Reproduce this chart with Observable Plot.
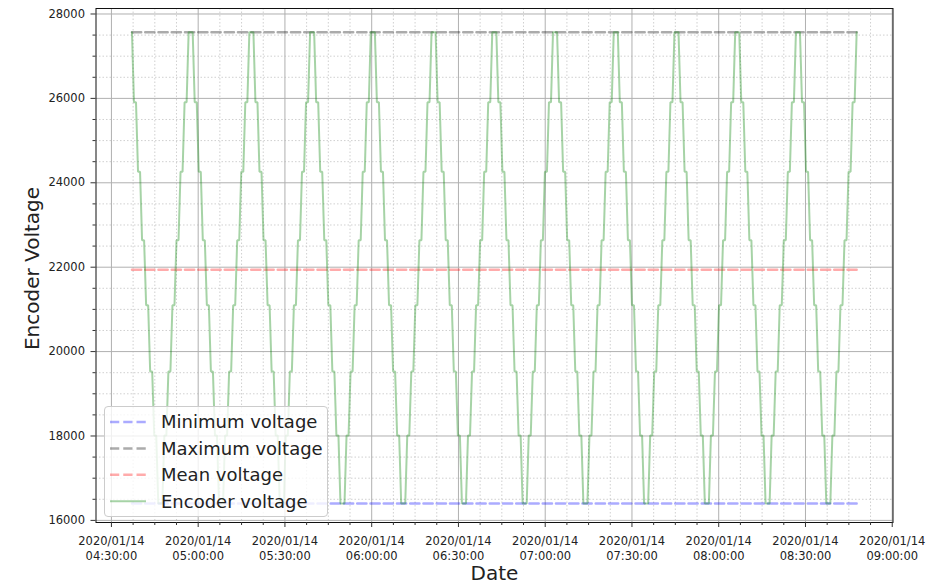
<!DOCTYPE html>
<html>
<head>
<meta charset="utf-8">
<script src="https://cdn.jsdelivr.net/npm/d3@7"></script>
<script src="https://cdn.jsdelivr.net/npm/@observablehq/plot@0.6"></script>
<style>
  html, body { margin: 0; padding: 0; background: #fff; }
  #wrap { position: relative; width: 928px; height: 585px; font-family: "DejaVu Sans", sans-serif; }
  #legend { position: absolute; left: 104px; top: 406px; width: 224px; height: 111px;
            background: rgba(255,255,255,0.8); border: 1px solid #cccccc; border-radius: 4px; box-sizing: border-box; }
</style>
</head>
<body>
<div id="wrap"></div>
<script>
// ---------- data ----------
const startTime = "2020-01-14T04:37:06Z";   // first sample
const sampleSeconds = 42;                     // sampling interval

const encoderVoltage = [
  27570,25910,25910,24260,24260,22640,22640,21100,21100,19530,19530,18010,18010,16400,16400,16400,18010,18010,19530,19530,21100,21100,22640,22640,24260,24260,25910,25910,
  27570,27570,27570,25910,25910,24260,24260,22640,22640,21100,21100,19530,19530,18010,18010,16400,16400,16400,18010,18010,19530,19530,21100,21100,22640,22640,24260,24260,25910,25910,
  27570,27570,27570,25910,25910,24260,24260,22640,22640,21100,21100,19530,19530,18010,18010,16400,16400,16400,18010,18010,19530,19530,21100,21100,22640,22640,24260,24260,25910,25910,
  27570,27570,27570,25910,25910,24260,24260,22640,22640,21100,21100,19530,19530,18010,18010,16400,16400,16400,18010,18010,19530,19530,21100,21100,22640,22640,24260,24260,25910,25910,
  27570,27570,27570,25910,25910,24260,24260,22640,22640,21100,21100,19530,19530,18010,18010,16400,16400,16400,18010,18010,19530,19530,21100,21100,22640,22640,24260,24260,25910,25910,
  27570,27570,27570,25910,25910,24260,24260,22640,22640,21100,21100,19530,19530,18010,18010,16400,16400,16400,18010,18010,19530,19530,21100,21100,22640,22640,24260,24260,25910,25910,
  27570,27570,27570,25910,25910,24260,24260,22640,22640,21100,21100,19530,19530,18010,18010,16400,16400,16400,18010,18010,19530,19530,21100,21100,22640,22640,24260,24260,25910,25910,
  27570,27570,27570,25910,25910,24260,24260,22640,22640,21100,21100,19530,19530,18010,18010,16400,16400,16400,18010,18010,19530,19530,21100,21100,22640,22640,24260,24260,25910,25910,
  27570,27570,27570,25910,25910,24260,24260,22640,22640,21100,21100,19530,19530,18010,18010,16400,16400,16400,18010,18010,19530,19530,21100,21100,22640,22640,24260,24260,25910,25910,
  27570,27570,27570,25910,25910,24260,24260,22640,22640,21100,21100,19530,19530,18010,18010,16400,16400,16400,18010,18010,19530,19530,21100,21100,22640,22640,24260,24260,25910,25910,
  27570,27570,27570,25910,25910,24260,24260,22640,22640,21100,21100,19530,19530,18010,18010,16400,16400,16400,18010,18010,19530,19530,21100,21100,22640,22640,24260,24260,25910,25910,
  27570,27570,27570,25910,25910,24260,24260,22640,22640,21100,21100,19530,19530,18010,18010,16400,16400,16400,18010,18010,19530,19530,21100,21100,22640,22640,24260,24260,25910,25910,
  27570
];

const refNames  = ["Minimum voltage", "Maximum voltage", "Mean voltage"];
const refValues = [16400, 27570, 21940];
const refColors = ["blue", "black", "red"];
const seriesName  = "Encoder voltage";
const seriesColor = "green";

const xTickLabels = ["04:30","05:00","05:30","06:00","06:30","07:00","07:30","08:00","08:30","09:00"];
const yTickValues = [16000, 18000, 20000, 22000, 24000, 26000, 28000];
const xDomain = ["2020-01-14T04:24:40Z", "2020-01-14T09:00:16Z"];
const yDomain = [15950, 28130];

// ---------- tables ----------
const t0 = Date.parse(startTime);
const encoderTable = encoderVoltage.map((v, i) => ({time: new Date(t0 + i * sampleSeconds * 1000), value: v}));
const tFirst = encoderTable[0].time, tLast = encoderTable[encoderTable.length - 1].time;
const refTables = refValues.map(v => [{time: tFirst, value: v}, {time: tLast, value: v}]);

const xMajor = xTickLabels.map(s => new Date(`2020-01-14T${s}:00Z`));
const xMinor = d3.range(0, 36).map(k => new Date(Date.parse("2020-01-14T04:30:00Z") + k * 7.5 * 60000))
  .filter(d => d.getUTCMinutes() % 30 !== 0 || d.getUTCSeconds() !== 0);
const yMinor = d3.range(16000, 28001, 500).filter(v => v % 2000 !== 0);

const fmtX = d3.utcFormat("%Y/%m/%d\n%H:%M:%S");
const dashW = 2.5;

const chart = Plot.plot({
  width: 928,
  height: 585,
  marginLeft: 95.5,
  marginRight: 35.5,
  marginTop: 8,
  marginBottom: 63,
  style: {fontFamily: "DejaVu Sans", fontSize: "11.5px", background: "white", color: "#222"},
  x: {type: "utc", domain: xDomain.map(d => new Date(d))},
  y: {domain: yDomain},
  marks: [
    // grids
    Plot.gridX({ticks: xMinor, stroke: "#c4c4c4", strokeOpacity: 1, strokeWidth: 0.8, strokeDasharray: "1.5,2"}),
    Plot.gridY({ticks: yMinor, stroke: "#c4c4c4", strokeOpacity: 1, strokeWidth: 0.8, strokeDasharray: "1.5,2"}),
    Plot.gridX({ticks: xMajor, stroke: "#b0b0b0", strokeOpacity: 1, strokeWidth: 1}),
    Plot.gridY({ticks: yTickValues, stroke: "#b0b0b0", strokeOpacity: 1, strokeWidth: 1}),
    // reference lines
    ...refTables.map((tbl, i) => Plot.line(tbl, {x: "time", y: "value", stroke: refColors[i], strokeOpacity: 0.33,
        strokeWidth: dashW, strokeDasharray: `${3.7*dashW},${1.6*dashW}`})),
    // encoder series
    Plot.line(encoderTable, {x: "time", y: "value", stroke: seriesColor, strokeOpacity: 0.35, strokeWidth: 2, strokeLinejoin: "miter"}),
    // frame
    Plot.frame({stroke: "#111", strokeWidth: 1}),
    // axes
    Plot.axisX({ticks: xMinor, tickSize: 3, fill: "none", stroke: "#333"}),
    Plot.axisY({ticks: yMinor, tickSize: 3, fill: "none", stroke: "#333"}),
    Plot.axisX({ticks: xMajor, tickSize: 5, tickPadding: 7, tickFormat: fmtX, lineHeight: 1.28, label: null, stroke: "#333", fill: "#222"}),
    Plot.axisY({ticks: yTickValues, tickSize: 5, tickPadding: 6, tickFormat: d => String(d), label: null, stroke: "#333", fill: "#222"}),
    // axis titles
    Plot.text(["Date"], {frameAnchor: "bottom", lineAnchor: "middle", textAnchor: "middle", dy: 51, text: d => d, fontSize: 20, fill: "#222"}),
    Plot.text(["Encoder Voltage"], {frameAnchor: "left", lineAnchor: "middle", textAnchor: "middle", dx: -63.5, dy: 3, rotate: -90, text: d => d, fontSize: 20, fill: "#222"})
  ]
});

const wrap = document.getElementById("wrap");
wrap.appendChild(chart);

// ---------- legend (overlay, lower-left inside the plot) ----------
const legendItems = [
  ...refNames.map((n, i) => ({name: n, color: refColors[i], opacity: 0.33, width: dashW, dash: `${3.7*dashW},${1.6*dashW}`})),
  {name: seriesName, color: seriesColor, opacity: 0.35, width: 2, dash: null}
];
const leg = document.createElement("div");
leg.id = "legend";
wrap.appendChild(leg);
const ls = d3.select(leg).append("svg").attr("width", 224).attr("height", 111)
  .style("position", "absolute").style("left", "-1px").style("top", "-1px");
legendItems.forEach((it, i) => {
  const cy = 16 + i * 26.4;
  ls.append("line").attr("x1", 6).attr("x2", 42).attr("y1", cy).attr("y2", cy)
    .attr("stroke", it.color).attr("stroke-opacity", it.opacity).attr("stroke-width", it.width)
    .attr("stroke-dasharray", it.dash);
  ls.append("text").attr("x", 57).attr("y", cy).attr("dy", "0.35em")
    .attr("font-family", "DejaVu Sans").attr("font-size", 18).attr("fill", "#222").text(it.name);
});
</script>
</body>
</html>
